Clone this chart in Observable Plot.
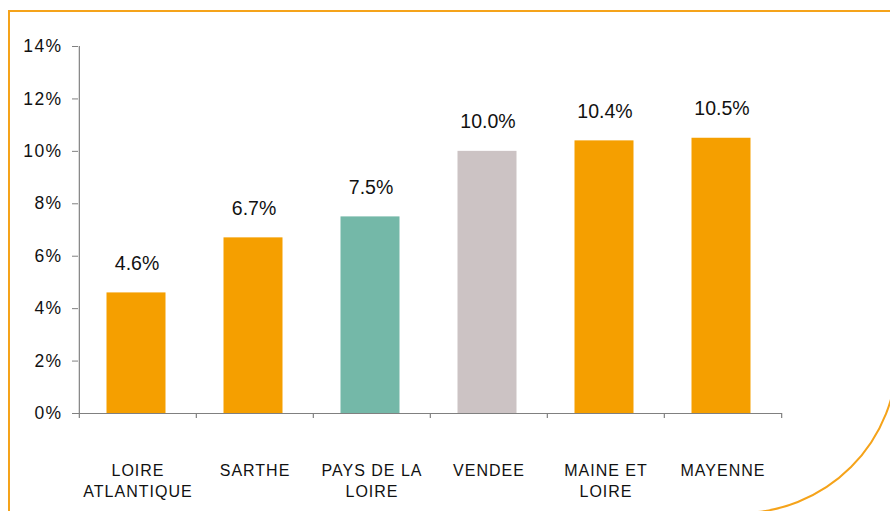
<!DOCTYPE html>
<html>
<head>
<meta charset="utf-8">
<script src="https://cdn.jsdelivr.net/npm/d3@7"></script>
<script src="https://cdn.jsdelivr.net/npm/@observablehq/plot@0.6"></script>
<style>
  html, body { margin: 0; padding: 0; background: #fff; overflow: hidden; }
  #wrap { position: relative; width: 890px; height: 511px; overflow: hidden; }
  #frame {
    position: absolute; left: 8px; top: 10px; width: 890px; height: 504px;
    box-sizing: border-box; border: 2px solid #F5A31A; border-bottom-right-radius: 158px;
    pointer-events: none;
  }
  #chart { position: absolute; left: 0; top: 0; }
  .chart text { font-family: "Liberation Sans", Arial, sans-serif; }
  .chart g[aria-label="y-axis tick label"] text { letter-spacing: 1.4px; }
  .chart g[aria-label="x-axis tick label"] text { letter-spacing: 1px; }
  .chart g[aria-label="value"] text { letter-spacing: 0.6px; }
</style>
</head>
<body>
<div id="wrap">
  <div id="frame"></div>
  <div id="chart"></div>
</div>
<script>
const categories = ["LOIRE\nATLANTIQUE", "SARTHE", "PAYS DE LA\nLOIRE", "VENDEE", "MAINE ET\nLOIRE", "MAYENNE"];
const values = [4.6, 6.7, 7.5, 10.0, 10.4, 10.5];
const barColors = ["#F59F00", "#F59F00", "#74B8A8", "#CCC3C4", "#F59F00", "#F59F00"];
const yTicks = [0, 2, 4, 6, 8, 10, 12, 14];

const data = categories.map((c, i) => ({cat: c, value: values[i], color: barColors[i]}));

const W = 890, H = 511, mL = 78, mR = 108, mT = 46, mB = 98;
const step = (W - mL - mR) / categories.length;
const axisColor = "#808080";

const chart = Plot.plot({
  width: W, height: H,
  marginLeft: mL, marginRight: mR, marginTop: mT, marginBottom: mB,
  className: "chart",
  style: {background: "transparent", color: "#111"},
  x: {domain: categories, paddingInner: 0.5, paddingOuter: 0.25, label: null},
  y: {domain: [0, 14], label: null},
  color: {type: "identity"},
  marks: [
    Plot.barY(data, {x: "cat", y: "value", fill: "color", dx: -1.5}),
    Plot.ruleY([0], {stroke: axisColor, strokeWidth: 1.2}),
    Plot.ruleX([categories[0]], {dx: -step / 2, y1: 0, y2: 14, stroke: axisColor, strokeWidth: 1.2}),
    Plot.ruleX(categories, {dx: -step / 2, y1: 0, y2: 0, insetBottom: -5, stroke: axisColor, strokeWidth: 1.2}),
    Plot.ruleX([categories[categories.length - 1]], {dx: step / 2, y1: 0, y2: 0, insetBottom: -5, stroke: axisColor, strokeWidth: 1.2}),
    Plot.axisY({ticks: yTicks, tickSize: 6, tickPadding: 10, tickFormat: d => d + "%", fontSize: 17.5, stroke: axisColor, color: "#111", label: null}),
    Plot.axisX({tickSize: 0, tickPadding: 47, fontSize: 16, lineHeight: 1.35, lineAnchor: "top", color: "#111", label: null}),
    Plot.text(data, {x: "cat", y: "value", text: d => d.value.toFixed(1) + "%", dy: -23, dx: -1, lineAnchor: "bottom", fontSize: 19.5, fill: "#111", ariaLabel: "value"})
  ]
});
document.getElementById("chart").appendChild(chart);
</script>
</body>
</html>
